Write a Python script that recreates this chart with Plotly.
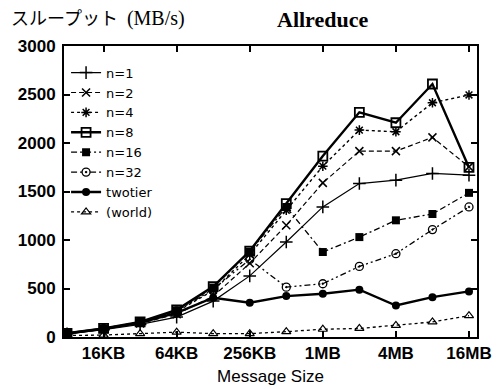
import numpy as np
import plotly.graph_objects as go

# ---- data ----
size_kb = [8, 16, 32, 64, 128, 256, 512, 1024, 2048, 4096, 8192, 16384]
n1 = [33, 75, 130, 205, 370, 630, 979, 1341, 1582, 1617, 1686, 1668]
n2 = [35, 80, 140, 235, 420, 760, 1152, 1589, 1916, 1916, 2058, 1754]
n4 = [36, 85, 150, 260, 480, 850, 1307, 1761, 2133, 2116, 2415, 2495]
n8 = [38, 88, 155, 280, 520, 886, 1376, 1865, 2316, 2209, 2608, 1748]
n16 = [38, 88, 155, 275, 510, 880, 1340, 876, 1030, 1203, 1268, 1486]
n32 = [37, 86, 150, 270, 490, 800, 514, 549, 728, 859, 1107, 1341]
twotier = [36, 85, 145, 250, 405, 353, 422, 446, 488, 325, 411, 470]
world = [15, 20, 35, 50, 35, 35, 55, 80, 88, 120, 155, 220]

series_names = ["n=1", "n=2", "n=4", "n=8", "n=16", "n=32", "twotier", "(world)"]
series_values = [n1, n2, n4, n8, n16, n32, twotier, world]

x_tick_kb = [16, 64, 256, 1024, 4096, 16384]
x_tick_text = ["16KB", "64KB", "256KB", "1MB", "4MB", "16MB"]
y_tick_vals = [0, 500, 1000, 1500, 2000, 2500, 3000]

# ---- styles ----
styles = [
    dict(dash="solid", width=1.2, symbol="cross-thin-open", size=9, mlw=1.5),
    dict(dash="5px,3px", width=1.2, symbol="x-thin-open", size=8, mlw=1.5),
    dict(dash="3px,3px", width=1.4, symbol="asterisk-open", size=8, mlw=1.5),
    dict(dash="solid", width=2.4, symbol="square-open", size=9, mlw=1.8),
    dict(dash="6px,3px,2px,3px", width=1.3, symbol="square", size=8, mlw=0),
    dict(dash="6px,3px,2px,3px,2px,3px", width=1.3, symbol="circle-open-dot", size=8, mlw=1.3),
    dict(dash="solid", width=2.4, symbol="circle", size=8, mlw=0),
    dict(dash="3px,3px", width=1.3, symbol="triangle-up-open", size=8, mlw=1.2),
]

fig = go.Figure()
for name, vals, st in zip(series_names, series_values, styles):
    fig.add_trace(go.Scatter(
        x=[v * 1024 for v in size_kb], y=vals, name=name,
        mode="lines+markers",
        line=dict(color="black", width=st["width"], dash=st["dash"]),
        marker=dict(symbol=st["symbol"], size=st["size"], color="black",
                    line=dict(color="black", width=st["mlw"])),
    ))

# x range: small padding in log space around the first/last message size
lo = np.log10(size_kb[0] * 1024) - 0.025
hi = np.log10(size_kb[-1] * 1024) + 0.066

tick_font = dict(family="Liberation Sans", size=17, color="black", weight="bold")

fig.update_layout(
    width=497, height=389,
    margin=dict(l=64, r=20, t=46, b=52),
    paper_bgcolor="white", plot_bgcolor="white",
    font=dict(family="Liberation Sans", color="black"),
    showlegend=True,
    legend=dict(x=0.005, y=0.96, xanchor="left", yanchor="top",
                bgcolor="rgba(0,0,0,0)", borderwidth=0,
                font=dict(family="DejaVu Sans", size=13, color="black"),
                tracegroupgap=0, itemwidth=30),
    xaxis=dict(type="log", range=[lo, hi], automargin=False,
               tickvals=[v * 1024 for v in x_tick_kb], ticktext=x_tick_text,
               ticks="inside", ticklen=6, tickwidth=1.5, tickcolor="black",
               showline=True, linecolor="black", linewidth=2, mirror="ticks",
               showgrid=False, zeroline=False, ticklabelstandoff=0,
               tickfont=tick_font,
               title=dict(text="Message Size", standoff=8,
                          font=dict(family="Liberation Sans", size=17, color="black"))),
    yaxis=dict(range=[0, 3000], tickvals=y_tick_vals, automargin=False,
               ticks="inside", ticklen=6, tickwidth=1.5, tickcolor="black",
               showline=True, linecolor="black", linewidth=2, mirror="ticks",
               showgrid=False, zeroline=False, ticklabelstandoff=3,
               tickfont=tick_font),
    annotations=[
        dict(text="<b>Allreduce</b>", xref="paper", yref="paper", x=0.627, y=1.0,
             yshift=27, showarrow=False, xanchor="center", yanchor="middle",
             font=dict(family="Liberation Serif", size=22, color="black")),
        dict(text="スループット&nbsp; <span style='font-size:20px'>(MB/s)</span>",
             xref="paper", yref="paper", x=0, y=1.0,
             xshift=-55, yshift=28, showarrow=False, xanchor="left", yanchor="middle",
             font=dict(family="Liberation Serif, Noto Sans CJK JP", size=18, color="black")),
    ],
)

fig.write_html("out.html")
